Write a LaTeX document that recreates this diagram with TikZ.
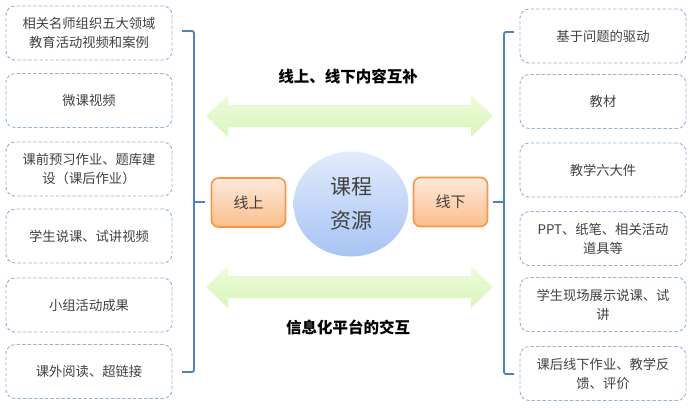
\documentclass[tikz,border=0pt]{standalone}
\usepackage{fontspec}
\setmainfont{Noto Sans CJK SC}
\usetikzlibrary{shapes.geometric}
\definecolor{boxline}{HTML}{95B3D7}
\definecolor{brace}{HTML}{4F81BD}
\definecolor{txt}{HTML}{404040}
\definecolor{orl}{HTML}{F79646}
\definecolor{ortop}{HTML}{FDE9DB}
\definecolor{orbot}{HTML}{FBBE8C}
\definecolor{gtop}{HTML}{EEFCDB}
\definecolor{gbot}{HTML}{D9F5BA}
\definecolor{btop}{HTML}{E2EBFB}
\definecolor{bbot}{HTML}{A7C3F4}
\tikzset{
  sbox/.style={draw=boxline, dashed, dash pattern=on 3.5pt off 2pt, line width=0.9pt, rounded corners=9pt,
    minimum width=166pt, minimum height=54pt, align=center, font=\fontsize{13.3}{19}\selectfont, text=txt, inner sep=2pt},
  obox/.style={draw=orl, line width=1.6pt, rounded corners=7pt, top color=ortop, bottom color=orbot,
    minimum width=74pt, minimum height=49pt, font=\fontsize{15}{18}\selectfont, text=txt},
  bracestyle/.style={draw=brace, line width=1.8pt, rounded corners=2pt},
  garrow/.style={top color=gtop, bottom color=gbot, draw=none},
  ttl/.style={font=\fontsize{15.5}{18}\selectfont\bfseries, text=black}
}
\begin{document}
\begin{tikzpicture}[x=1pt,y=-1pt]
\useasboundingbox (0,0) rectangle (692,407);
% left boxes
\node[sbox] (l1) at (89,33) {相关名师组织五大领域\\教育活动视频和案例};
\node[sbox] (l2) at (89,100.5) {微课视频};
\node[sbox] (l3) at (89,169) {课前预习作业、题库建\\设（课后作业）};
\node[sbox] (l4) at (89,236) {学生说课、试讲视频};
\node[sbox] (l5) at (89,305) {小组活动成果};
\node[sbox] (l6) at (89,371.5) {课外阅读、超链接};
% right boxes
\node[sbox] (r1) at (603,36) {基于问题的驱动};
\node[sbox] (r2) at (603,101.5) {教材};
\node[sbox] (r3) at (603,170) {教学六大件};
\node[sbox] (r4) at (603,238.5) {PPT、纸笔、相关活动\\道具等};
\node[sbox] (r5) at (603,304.5) {学生现场展示说课、试\\讲};
\node[sbox] (r6) at (603,373.5) {课后线下作业、教学反\\馈、评价};
% braces
\coordinate (lbt) at (182,31);
\coordinate (lbb) at (182,372);
\coordinate (lbm) at (205,202);
\draw[bracestyle] (lbt) -- (194,31) -- (194,372) -- (lbb);
\draw[bracestyle, rounded corners=0pt] (194,202) -- (lbm);
\coordinate (rbt) at (514,32);
\coordinate (rbb) at (514,374);
\coordinate (rbm) at (493,202);
\draw[bracestyle] (rbt) -- (504,32) -- (504,374) -- (rbb);
\draw[bracestyle, rounded corners=0pt] (504,202) -- (rbm);
% arrows
\shade[garrow] (206,116) -- (228,95) -- (228,105) -- (471,105) -- (471,95) -- (493,116) -- (471,137) -- (471,127) -- (228,127) -- (228,137) -- cycle;
\shade[garrow] (206,287) -- (228,266) -- (228,276) -- (471,276) -- (471,266) -- (493,287) -- (471,308) -- (471,298) -- (228,298) -- (228,308) -- cycle;
\node[ttl] (t1) at (348,77) {线上、线下内容互补};
\node[ttl] (t2) at (348,327) {信息化平台的交互};
% center
\node[ellipse, minimum width=115pt, minimum height=105pt, top color=btop, bottom color=bbot,
  align=center, font=\fontsize{21}{34}\selectfont, text=txt] (c) at (351,204) {课程\\资源};
\node[obox] (on) at (248.5,202.5) {线上};
\node[obox] (off) at (450.5,202) {线下};
\end{tikzpicture}
\end{document}
